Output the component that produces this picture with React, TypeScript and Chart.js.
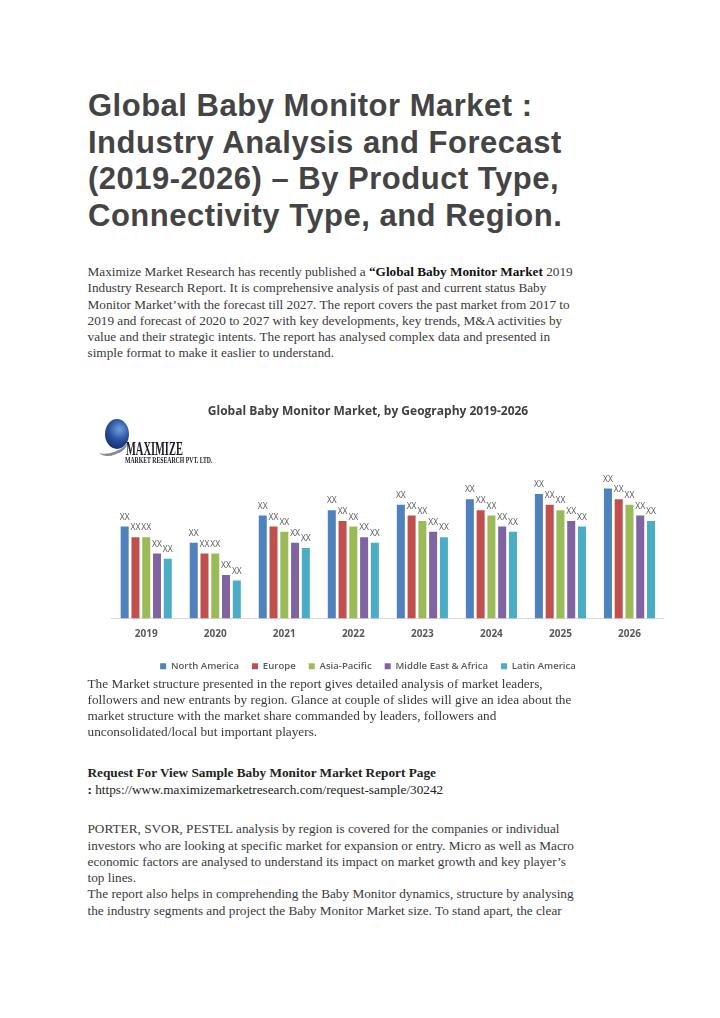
import React, { useEffect, useRef } from "react";
import { Chart, registerables } from "chart.js";

Chart.register(...registerables);

const categories = ["2019", "2020", "2021", "2022", "2023", "2024", "2025", "2026"];
const seriesNames = ["North America", "Europe", "Asia-Pacific", "Middle East & Africa", "Latin America"];
const northAmerica = [17, 14, 19, 20, 21, 22, 23, 24];
const europe = [15, 12, 17, 18, 19, 20, 21, 22];
const asiaPacific = [15, 12, 16, 17, 18, 19, 20, 21];
const middleEastAfrica = [12, 8, 14, 15, 16, 17, 18, 19];
const latinAmerica = [11, 7, 13, 14, 15, 16, 17, 18];
const seriesColors = ["#4F81BD", "#C0504D", "#9BBB59", "#8064A2", "#4BACC6"];
const valueLabel = "XX";
const chartTitle = "Global Baby Monitor Market, by Geography 2019-2026";

const pageTitle = [
  "Global Baby Monitor Market :",
  "Industry Analysis and Forecast",
  "(2019-2026) \u2013 By Product Type,",
  "Connectivity Type, and Region.",
];

const para2 = [
  "The Market structure presented in the report gives detailed analysis of market leaders,",
  "followers and new entrants by region. Glance at couple of slides will give an idea about the",
  "market structure with the market share commanded by leaders, followers and",
  "unconsolidated/local but important players.",
];

const para3 = [
  "PORTER, SVOR, PESTEL analysis by region is covered for the companies or individual",
  "investors who are looking at specific market for expansion or entry. Micro as well as Macro",
  "economic factors are analysed to understand its impact on market growth and key player\u2019s",
  "top lines.",
  "The report also helps in comprehending the Baby Monitor dynamics, structure by analysing",
  "the industry segments and project the Baby Monitor Market size. To stand apart, the clear",
];

const LH = 16.3;
const bodyFont: React.CSSProperties = {
  fontFamily: '"Liberation Serif", "Times New Roman", serif',
  fontSize: 13.25,
  lineHeight: LH + "px",
  color: "#3a3a3a",
  whiteSpace: "nowrap",
};

const labelPlugin = {
  id: "xxLabels",
  afterDatasetsDraw(chart: any) {
    const ctx = chart.ctx;
    ctx.save();
    ctx.font = '8.5px "Open Sans", sans-serif';
    ctx.fillStyle = "#595959";
    ctx.textAlign = "center";
    ctx.textBaseline = "bottom";
    chart.data.datasets.forEach((ds: any, i: number) => {
      const meta = chart.getDatasetMeta(i);
      meta.data.forEach((bar: any) => {
        ctx.fillText(valueLabel, bar.x, bar.y - 5);
      });
    });
    ctx.restore();
  },
};

function BarChart() {
  const ref = useRef<HTMLCanvasElement>(null);
  useEffect(() => {
    if (!ref.current) return;
    const values = [northAmerica, europe, asiaPacific, middleEastAfrica, latinAmerica];
    const chart = new Chart(ref.current, {
      type: "bar",
      data: {
        labels: categories,
        datasets: values.map((v, i) => ({
          label: seriesNames[i],
          data: v,
          backgroundColor: seriesColors[i],
          borderWidth: 0,
          barPercentage: 0.744,
          categoryPercentage: 0.78,
        })),
      },
      options: {
        animation: false,
        responsive: false,
        maintainAspectRatio: false,
        layout: { padding: { left: 0, right: 0, top: 0, bottom: 4 } },
        scales: {
          x: {
            grid: { display: false, drawTicks: false },
            border: { display: true, color: "#d9d9d9", width: 1 },
            ticks: {
              color: "#595959",
              font: { family: '"Open Sans", sans-serif', size: 10, weight: "bold" },
              padding: 10,
              maxRotation: 0,
            },
            afterFit: (s: any) => {
              s.height = 30;
            },
          },
          y: {
            min: 0,
            max: 32,
            grid: { display: false, drawTicks: false },
            border: { display: false },
            ticks: { display: false },
            afterFit: (s: any) => {
              s.width = 39.7;
            },
          },
        },
        plugins: {
          title: {
            display: true,
            text: chartTitle,
            color: "#404040",
            font: { family: '"Open Sans", sans-serif', size: 12, weight: "bold" },
            padding: { top: 9.8, bottom: 26 },
          },
          legend: {
            display: true,
            position: "bottom",
            labels: {
              color: "#595959",
              font: { family: '"Open Sans", sans-serif', size: 9.6, weight: 600 },
              boxWidth: 6,
              boxHeight: 6,
              padding: 13,
            },
          },
          tooltip: { enabled: false },
        },
      },
      plugins: [labelPlugin],
    });
    return () => chart.destroy();
  }, []);
  return (
    <canvas
      ref={ref}
      width={592}
      height={290}
      style={{ position: "absolute", left: 72, top: 395, width: 592, height: 290 }}
    />
  );
}

function Logo() {
  return (
    <div style={{ position: "absolute", left: 98, top: 418, width: 130, height: 50 }}>
      <div
        style={{
          position: "absolute",
          left: 7,
          top: 1,
          width: 24,
          height: 30,
          borderRadius: "50%",
          background: "radial-gradient(circle at 60% 35%, #6f9fe0 0%, #2a4f9c 45%, #0d1f5c 100%)",
        }}
      />
      <div
        style={{
          position: "absolute",
          left: 0,
          top: 20,
          width: 30,
          height: 14,
          borderRadius: "50%",
          borderBottom: "3px solid #8a8a8a",
          transform: "rotate(-20deg)",
        }}
      />
      <div
        style={{
          position: "absolute",
          left: 28,
          top: 22,
          fontFamily: '"Liberation Serif", serif',
          fontWeight: "bold",
          fontSize: 18,
          lineHeight: "18px",
          color: "#1b1b2b",
          transform: "scaleX(0.58)",
          transformOrigin: "left top",
          whiteSpace: "nowrap",
        }}
      >
        MAXIMIZE
      </div>
      <div
        style={{
          position: "absolute",
          left: 27,
          top: 38,
          fontFamily: '"Liberation Serif", serif',
          fontWeight: "bold",
          fontSize: 9,
          lineHeight: "9px",
          color: "#1b1b2b",
          transform: "scaleX(0.64)",
          transformOrigin: "left top",
          whiteSpace: "nowrap",
        }}
      >
        MARKET RESEARCH PVT. LTD.
      </div>
    </div>
  );
}

export default function App() {
  return (
    <div style={{ position: "absolute", left: 0, top: 0, width: 720, height: 1018, background: "#fff", overflow: "hidden" }}>
      <div
        style={{
          position: "absolute",
          left: 88,
          top: 88.2,
          fontFamily: '"Liberation Sans", Arial, sans-serif',
          fontWeight: "bold",
          fontSize: 31,
          lineHeight: "36.5px",
          color: "#444444",
          letterSpacing: "0.5px",
          whiteSpace: "nowrap",
        }}
      >
        {pageTitle.map((t, i) => (
          <div key={i}>{t}</div>
        ))}
      </div>

      <div style={{ ...bodyFont, position: "absolute", left: 87.5, top: 264 }}>
        <div>
          Maximize Market Research has recently published a{" "}
          <b style={{ color: "#111" }}>{"\u201cGlobal Baby Monitor Market"}</b> 2019
        </div>
        <div>Industry Research Report. It is comprehensive analysis of past and current status Baby</div>
        <div>Monitor Market{"\u2019"}with the forecast till 2027. The report covers the past market from 2017 to</div>
        <div>2019 and forecast of 2020 to 2027 with key developments, key trends, M&amp;A activities by</div>
        <div>value and their strategic intents. The report has analysed complex data and presented in</div>
        <div>simple format to make it easlier to understand.</div>
      </div>

      <BarChart />
      <Logo />

      <div style={{ ...bodyFont, position: "absolute", left: 87.5, top: 675.6 }}>
        {para2.map((t, i) => (
          <div key={i}>{t}</div>
        ))}
      </div>

      <div style={{ ...bodyFont, position: "absolute", left: 87.5, top: 765.3, color: "#222" }}>
        <div style={{ fontWeight: "bold" }}>Request For View Sample Baby Monitor Market Report Page</div>
        <div>
          <b>:</b> https://www.maximizemarketresearch.com/request-sample/30242
        </div>
      </div>

      <div style={{ ...bodyFont, position: "absolute", left: 87.5, top: 821.3 }}>
        {para3.map((t, i) => (
          <div key={i}>{t}</div>
        ))}
      </div>
    </div>
  );
}
